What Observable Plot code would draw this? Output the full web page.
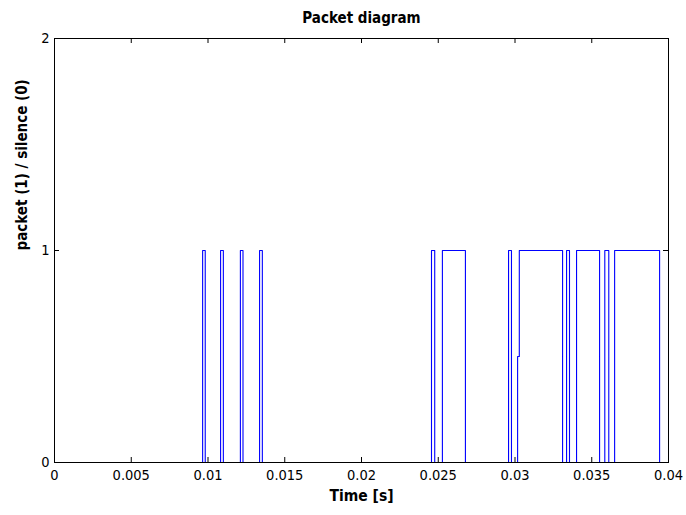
<!DOCTYPE html>
<html>
<head>
<meta charset="utf-8">
<script src="https://cdn.jsdelivr.net/npm/d3@7"></script>
<script src="https://cdn.jsdelivr.net/npm/@observablehq/plot@0.6"></script>
<style>
  html, body { margin: 0; padding: 0; background: #fff; }
  #chart svg { display: block; }
</style>
</head>
<body>
<div id="chart"></div>
<script>
// Packet on/off intervals (seconds)
const pulseStart = [0.00965, 0.01082, 0.01211, 0.01336, 0.02456, 0.02527, 0.02958, 0.03017, 0.03336, 0.03401, 0.03585, 0.03649];
const pulseEnd   = [0.00982, 0.01100, 0.01228, 0.01354, 0.02477, 0.02677, 0.02977, 0.03310, 0.03355, 0.03551, 0.03611, 0.03942];
// one rising edge is drawn in two parts (sampling artefact): level reached at first time, then full rise
const splitRiseIndex = 7;
const splitRiseLevel = 0.5;
const splitRiseTime2 = 0.03028;

const xTicks = [0, 0.005, 0.01, 0.015, 0.02, 0.025, 0.03, 0.035, 0.04];
const xTickLabels = ["0", "0.005", "0.01", "0.015", "0.02", "0.025", "0.03", "0.035", "0.04"];
const yTicks = [0, 1, 2];
const yTickLabels = ["0", "1", "2"];

const title = "Packet diagram";
const xLabel = "Time [s]";
const yLabel = "packet (1) / silence (0)";

// Build step-signal points
const pts = [{t: 0, v: 0}];
pulseStart.forEach((s, i) => {
  const e = pulseEnd[i];
  pts.push({t: s, v: 0});
  if (i === splitRiseIndex) {
    pts.push({t: s, v: splitRiseLevel});
    pts.push({t: splitRiseTime2, v: splitRiseLevel});
    pts.push({t: splitRiseTime2, v: 1});
  } else {
    pts.push({t: s, v: 1});
  }
  pts.push({t: e, v: 1});
  pts.push({t: e, v: 0});
});
pts.push({t: 0.04, v: 0});

const W = 686, H = 515;
const mL = 54, mR = 18, mT = 38, mB = 53;
const frameH = H - mT - mB;
const tickLen = 5;
const font = "'Liberation Sans Narrow', 'Arial Narrow', 'DejaVu Sans Condensed', 'Liberation Sans', sans-serif";

const chart = Plot.plot({
  width: W,
  height: H,
  marginLeft: mL,
  marginRight: mR,
  marginTop: mT,
  marginBottom: mB,
  style: {fontFamily: font, fontSize: "14px", color: "#000", background: "#fff"},
  x: {domain: [0, 0.04], axis: null},
  y: {domain: [0, 2], axis: null},
  marks: [
    Plot.line(pts, {x: "t", y: "v", stroke: "#0000ff", strokeWidth: 1.1}),
    Plot.frame({stroke: "#000", strokeWidth: 1}),
    // inward ticks
    Plot.tickX(xTicks, {x: d => d, insetTop: frameH - tickLen, stroke: "#000"}),
    Plot.tickX(xTicks, {x: d => d, insetBottom: frameH - tickLen, stroke: "#000"}),
    Plot.axisX({ticks: xTicks, tickSize: 0, tickPadding: 7, tickFormat: (d, i) => xTickLabels[xTicks.indexOf(d)], fontSize: 14.5, label: null}),
    Plot.axisY({ticks: yTicks, tickSize: 0, tickPadding: 5, tickFormat: d => yTickLabels[yTicks.indexOf(d)], fontSize: 14.5, label: null}),
    Plot.ruleY(yTicks, {y: d => d, x1: 0, x2: 0.04 * tickLen / (W - mL - mR), stroke: "#000"}),
    Plot.ruleY(yTicks, {y: d => d, x1: 0.04 - 0.04 * tickLen / (W - mL - mR), x2: 0.04, stroke: "#000"}),
    Plot.text([title], {frameAnchor: "top", dy: -26, text: d => d, fontWeight: "bold", fontSize: 15}),
    Plot.text([xLabel], {frameAnchor: "bottom", dy: 38, text: d => d, fontWeight: "bold", fontSize: 15.5}),
    Plot.text([yLabel], {frameAnchor: "left", dx: -32, rotate: -90, text: d => d, fontWeight: "bold", fontSize: 15})
  ]
});
document.getElementById("chart").appendChild(chart);
</script>
</body>
</html>
